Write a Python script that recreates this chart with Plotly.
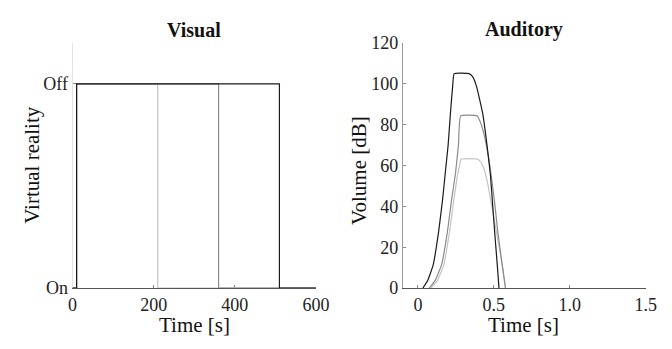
import plotly.graph_objects as go

# ---- Visual panel data ----
vis_t_light = [0, 10, 10, 210, 210, 600]
vis_t_mid = [0, 10, 10, 360, 360, 600]
vis_t_dark = [0, 10, 10, 510, 510, 600]
vis_state = [0, 0, 1, 1, 0, 0]
vis_ticks = [0, 1]
vis_ticklabels = ["On", "Off"]

# ---- Auditory panel data ----
aud_t_dark = [0.033, 0.065, 0.101, 0.135, 0.161, 0.182, 0.199, 0.214, 0.229, 0.239,
              0.338, 0.36, 0.385, 0.427, 0.455, 0.478, 0.493, 0.506, 0.522, 0.534]
aud_v_dark = [0, 3.8, 11.5, 26.9, 42.3, 57.7, 70, 85.4, 99, 105,
              105, 103.5, 99, 85.4, 70, 55, 40, 27, 12, 0]
aud_t_mid = [0.075, 0.114, 0.156, 0.193, 0.220, 0.247, 0.267, 0.282,
             0.391, 0.41, 0.427, 0.455, 0.481, 0.505, 0.527, 0.555, 0.577]
aud_v_mid = [0, 3.8, 11.5, 26.9, 42.3, 56, 70, 84.3,
             84.3, 81.5, 77.7, 68.4, 56, 42, 27, 11.5, 0]
aud_t_light = [0.086, 0.129, 0.171, 0.207, 0.235, 0.26, 0.274, 0.284,
               0.395, 0.42, 0.438, 0.46, 0.481, 0.519, 0.555, 0.577]
aud_v_light = [0, 3.8, 11.5, 26.9, 42.3, 55, 60, 63.1,
               63.1, 61, 57.7, 51, 42.3, 26.9, 11.5, 0]

C_LIGHT = "#c4c4c4"
C_MID = "#8a8a8a"
C_DARK = "#1a1a1a"
FONT = "Liberation Serif, Times New Roman, serif"

W, H = 672, 349
def px(x):
    return x / W
def py(y):
    return 1 - y / H

fig = go.Figure()
for t, c in [(vis_t_light, C_LIGHT), (vis_t_mid, C_MID), (vis_t_dark, C_DARK)]:
    fig.add_trace(go.Scatter(x=t, y=vis_state, mode="lines", line=dict(color=c, width=1.2),
                             xaxis="x", yaxis="y", showlegend=False, hoverinfo="skip"))
for t, v, c in [(aud_t_light, aud_v_light, C_LIGHT), (aud_t_mid, aud_v_mid, C_MID),
                (aud_t_dark, aud_v_dark, C_DARK)]:
    fig.add_trace(go.Scatter(x=t, y=v, mode="lines",
                             line=dict(color=c, width=1.2, shape="spline", smoothing=0.4),
                             xaxis="x2", yaxis="y2", showlegend=False, hoverinfo="skip"))

tickfont = dict(family=FONT, size=18, color="#222")
common = dict(showgrid=False, zeroline=False, ticks="inside", ticklen=3, tickwidth=1,
              tickcolor="#888", tickfont=tickfont, layer="below traces", showline=True)

y_dom = [py(295), py(35)]
fig.update_layout(
    width=W, height=H, margin=dict(l=0, r=0, t=0, b=0),
    font=dict(family=FONT, size=18, color="#222"),
    paper_bgcolor="white", plot_bgcolor="white",
    xaxis=dict(domain=[px(69.5), px(320)], range=[0, 600], tickvals=[0, 200, 400, 600],
               linecolor="#555", anchor="y", **common),
    yaxis=dict(domain=y_dom, range=[0, 1.2], tickvals=vis_ticks, ticktext=vis_ticklabels,
               linecolor="#e4e4e4", anchor="x", **common),
    xaxis2=dict(domain=[px(409.3), px(659.3)], range=[-0.1, 1.5], tickvals=[0, 0.5, 1.0, 1.5],
                ticktext=["0", "0.5", "1.0", "1.5"], linecolor="#555", anchor="y2", **common),
    yaxis2=dict(domain=y_dom, range=[0, 120], tickvals=[0, 20, 40, 60, 80, 100, 120],
                linecolor="#999", anchor="x2", **common),
)

anns = [
    dict(text="<b>Visual</b>", x=px(195), y=py(21), size=20),
    dict(text="<b>Auditory</b>", x=px(534), y=py(21), size=20),
    dict(text="Time [s]", x=px(195), y=py(334), size=21),
    dict(text="Time [s]", x=px(534), y=py(334), size=21),
    dict(text="Virtual reality", x=px(27), y=py(164), size=21, angle=-90),
    dict(text="Volume [dB]", x=px(365), y=py(170), size=21, angle=-90),
]
for a in anns:
    fig.add_annotation(text=a["text"], x=a["x"], y=a["y"], xref="paper", yref="paper",
                       xanchor="center", yanchor="middle", showarrow=False,
                       textangle=a.get("angle", 0),
                       font=dict(family=FONT, size=a["size"], color="#111"))

fig.write_html("out.html")
